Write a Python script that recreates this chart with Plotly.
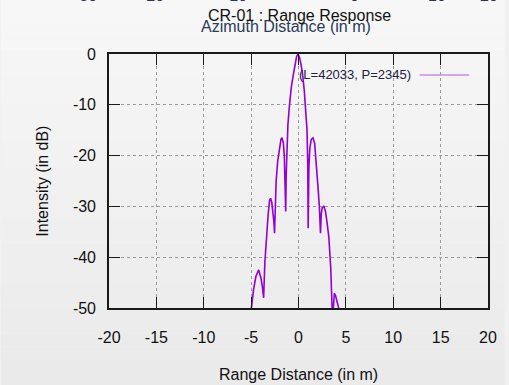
import plotly.graph_objects as go

# Range cut through the point target response (distance in m, intensity in dB)
range_m = [-5.2, -4.97, -4.75, -4.5, -4.2, -3.95, -3.8, -3.68, -3.55, -3.4,
           -3.2, -3.05, -2.95, -2.82, -2.7, -2.6, -2.53, -2.45, -2.36, -2.19,
           -2.0, -1.85, -1.74, -1.6, -1.5, -1.42, -1.35, -1.3, -1.25, -1.12,
           -0.97, -0.75, -0.52, -0.35, -0.2, -0.05, 0.1, 0.25, 0.42, 0.6,
           0.76, 0.9, 0.98, 1.02, 1.1, 1.2, 1.35, 1.53, 1.7, 1.82,
           1.9, 2.05, 2.2, 2.32, 2.4, 2.5, 2.68, 2.85, 3.0, 3.2,
           3.4, 3.54, 3.6, 3.68, 3.78, 3.9, 4.05, 4.24, 4.35]
intensity_db = [-56, -50, -46.5, -43.8, -42.5, -44.2, -46, -48, -41, -36,
                -31.5, -28.8, -28.4, -29.2, -31, -33, -35.3, -28, -25, -21,
                -18, -16.8, -16.5, -17.5, -20, -24, -31, -24, -20.2, -14,
                -10.4, -6.4, -3.8, -1.8, -0.5, 0, -0.6, -1.9, -3.8, -7,
                -10.4, -15, -22, -34.3, -22, -18.5, -16.8, -16.5, -17.5, -20,
                -22.8, -26, -30, -35.3, -31.5, -30.3, -29.9, -31, -33, -36,
                -42, -50, -53, -50, -47.1, -47.5, -48.5, -50, -54]

x_ticks = [-20, -15, -10, -5, 0, 5, 10, 15, 20]
y_ticks = [0, -10, -20, -30, -40, -50]
top_labels = ["-30", "-20", "-10", "0", "10", "20"]
top_label_px = [85, 153, 237, 357, 440, 493]

title_text = "CR-01 : Range Response"
under_title = "Azimuth Distance (in m)"
key_text = "(L=42033, P=2345)"
x_title = "Range Distance (in m)"
y_title = "Intensity (in dB)"

W, H = 509, 385
ML, MR, MT, MB = 109, 17, 54, 77
PW, PH = W - ML - MR, H - MT - MB

FONT = "Liberation Sans, Arial, Helvetica, sans-serif"
CURVE = "#9400d3"


def px_x(px):
    return (px - ML) / PW


def px_y(py):
    return (H - MB - py) / PH


fig = go.Figure()
fig.add_trace(go.Scatter(x=range_m, y=intensity_db, mode="lines",
                         line=dict(color=CURVE, width=1.6),
                         showlegend=False, hoverinfo="skip"))

# soft vertical gradient behind everything
shapes = []
bands = 30
for i in range(bands):
    t = i / (bands - 1)
    v = int(round(247 - 13 * t))
    shapes.append(dict(type="rect", xref="paper", yref="paper", layer="below",
                       x0=px_x(0), x1=px_x(W),
                       y0=px_y(H * (i + 1) / bands), y1=px_y(H * i / bands),
                       line=dict(width=0), fillcolor=f"rgb({v},{v},{v})"))
# key sample line
shapes.append(dict(type="line", xref="paper", yref="paper",
                   x0=px_x(423), x1=px_x(473), y0=px_y(75), y1=px_y(75),
                   line=dict(color="#c98ae9", width=1.6)))

annotations = []
for lbl, px in zip(top_labels, top_label_px):
    annotations.append(dict(text=lbl, x=px_x(px), y=px_y(-4), xref="paper", yref="paper",
                            showarrow=False, xanchor="center", yanchor="middle",
                            font=dict(family=FONT, size=16, color="#2b3550")))
annotations += [
    dict(text=under_title, x=px_x(288), y=px_y(27), xref="paper", yref="paper",
         showarrow=False, xanchor="center", yanchor="middle",
         font=dict(family=FONT, size=16, color="#2b3a58")),
    dict(text=title_text, x=px_x(302), y=px_y(15), xref="paper", yref="paper",
         showarrow=False, xanchor="center", yanchor="middle",
         font=dict(family=FONT, size=16, color="#111111")),
    dict(text=key_text, x=px_x(416), y=px_y(75), xref="paper", yref="paper",
         showarrow=False, xanchor="right", yanchor="middle",
         font=dict(family=FONT, size=13, color="#222240")),
    dict(text=x_title, x=px_x(301), y=px_y(374), xref="paper", yref="paper",
         showarrow=False, xanchor="center", yanchor="middle",
         font=dict(family=FONT, size=16, color="#111111")),
    dict(text=y_title, x=px_x(41), y=px_y(181), xref="paper", yref="paper",
         showarrow=False, xanchor="center", yanchor="middle", textangle=-90,
         font=dict(family=FONT, size=16, color="#111111")),
]

axis_common = dict(showline=True, linecolor="#1a1a1a", linewidth=1.6,
                   mirror="ticks", ticks="inside", ticklen=11, tickwidth=1.3,
                   tickcolor="#1a1a1a", showgrid=True, gridcolor="#9a9a9a",
                   griddash="dot", gridwidth=1, zeroline=False,
                   tickfont=dict(family=FONT, size=16, color="#111111"))

fig.update_layout(
    width=W, height=H,
    margin=dict(l=ML, r=MR, t=MT, b=MB),
    paper_bgcolor="#f1f1f1",
    plot_bgcolor="rgba(0,0,0,0)",
    shapes=shapes,
    annotations=annotations,
    xaxis=dict(range=[-20, 20], tickvals=x_ticks,
               ticktext=[str(v) for v in x_ticks], ticklabelstandoff=14,
               **axis_common),
    yaxis=dict(range=[-50, 0], tickvals=y_ticks,
               ticktext=[str(v) for v in y_ticks], ticklabelstandoff=8,
               **axis_common),
)

fig.write_html("out.html")
